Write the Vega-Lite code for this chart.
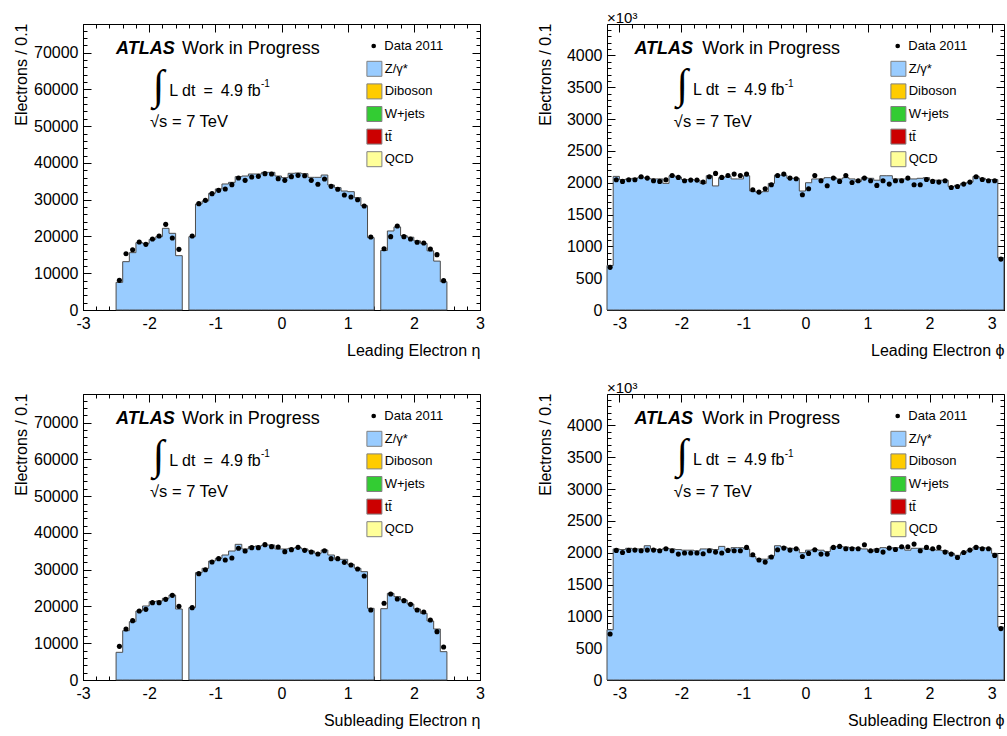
{
"$schema": "https://vega.github.io/schema/vega-lite/v6.json",
"padding": {"left": 12, "top": 10, "right": 2, "bottom": 2},
"bounds": "flush",
"spacing": {"row": 84, "column": 127},
"columns": 2,
"datasets": {
"leta": [
{"seg":"a","lo":-2.5,"c":-2.45,"mc":7530,"d":8070},{"seg":"a","lo":-2.4,"c":-2.35,"mc":13150,"d":15320},{"seg":"a","lo":-2.3,"c":-2.25,"mc":15600,"d":16410},{"seg":"a","lo":-2.2,"c":-2.15,"mc":18320,"d":18500},{"seg":"a","lo":-2.1,"c":-2.05,"mc":18140,"d":17860},{"seg":"a","lo":-2.0,"c":-1.95,"mc":19220,"d":19310},{"seg":"a","lo":-1.9,"c":-1.85,"mc":19950,"d":20130},{"seg":"a","lo":-1.8,"c":-1.75,"mc":22220,"d":23300},{"seg":"a","lo":-1.7,"c":-1.65,"mc":20860,"d":19590},{"seg":"a","lo":-1.6,"c":-1.55,"mc":14780,"d":16500},{"seg":"a","lo":-1.5,"mc":14780},
{"seg":"b","lo":-1.4,"c":-1.35,"mc":19950,"d":20130},{"seg":"b","lo":-1.3,"c":-1.25,"mc":28840,"d":28930},{"seg":"b","lo":-1.2,"c":-1.15,"mc":29650,"d":29830},{"seg":"b","lo":-1.1,"c":-1.05,"mc":31740,"d":31650},{"seg":"b","lo":-1.0,"c":-0.95,"mc":32920,"d":32550},{"seg":"b","lo":-0.9,"c":-0.85,"mc":34280,"d":32920},{"seg":"b","lo":-0.8,"c":-0.75,"mc":34730,"d":34100},{"seg":"b","lo":-0.7,"c":-0.65,"mc":36270,"d":35910},{"seg":"b","lo":-0.6,"c":-0.55,"mc":36450,"d":35270},{"seg":"b","lo":-0.5,"c":-0.45,"mc":37000,"d":36180},{"seg":"b","lo":-0.4,"c":-0.35,"mc":37000,"d":36360},{"seg":"b","lo":-0.3,"c":-0.25,"mc":37450,"d":37090},{"seg":"b","lo":-0.2,"c":-0.15,"mc":37450,"d":37000},{"seg":"b","lo":-0.1,"c":-0.05,"mc":36450,"d":35730},{"seg":"b","lo":0.0,"c":0.05,"mc":36000,"d":35270},{"seg":"b","lo":0.1,"c":0.15,"mc":37180,"d":36270},{"seg":"b","lo":0.2,"c":0.25,"mc":37270,"d":36630},{"seg":"b","lo":0.3,"c":0.35,"mc":37090,"d":36540},{"seg":"b","lo":0.4,"c":0.45,"mc":36090,"d":35270},{"seg":"b","lo":0.5,"c":0.55,"mc":36090,"d":34190},{"seg":"b","lo":0.6,"c":0.65,"mc":36720,"d":35640},{"seg":"b","lo":0.7,"c":0.75,"mc":34000,"d":33640},{"seg":"b","lo":0.8,"c":0.85,"mc":33280,"d":32830},{"seg":"b","lo":0.9,"c":0.95,"mc":32370,"d":31280},{"seg":"b","lo":1.0,"c":1.05,"mc":32190,"d":30740},{"seg":"b","lo":1.1,"c":1.15,"mc":30560,"d":30010},{"seg":"b","lo":1.2,"c":1.25,"mc":28380,"d":28290},{"seg":"b","lo":1.3,"c":1.35,"mc":19680,"d":19860},{"seg":"b","lo":1.4,"mc":19680},
{"seg":"c","lo":1.5,"c":1.55,"mc":16200,"d":16680},{"seg":"c","lo":1.6,"c":1.65,"mc":21500,"d":19950},{"seg":"c","lo":1.7,"c":1.75,"mc":22600,"d":22850},{"seg":"c","lo":1.8,"c":1.85,"mc":20200,"d":19950},{"seg":"c","lo":1.9,"c":1.95,"mc":19800,"d":19310},{"seg":"c","lo":2.0,"c":2.05,"mc":18800,"d":18410},{"seg":"c","lo":2.1,"c":2.15,"mc":18100,"d":18230},{"seg":"c","lo":2.2,"c":2.25,"mc":16100,"d":16590},{"seg":"c","lo":2.3,"c":2.35,"mc":13300,"d":15050},{"seg":"c","lo":2.4,"c":2.45,"mc":7700,"d":7980},{"seg":"c","lo":2.5,"mc":7700}
],
"seta": [
{"seg":"a","lo":-2.5,"c":-2.45,"mc":7530,"d":9160},{"seg":"a","lo":-2.4,"c":-2.35,"mc":13420,"d":13870},{"seg":"a","lo":-2.3,"c":-2.25,"mc":15870,"d":16140},{"seg":"a","lo":-2.2,"c":-2.15,"mc":18770,"d":18770},{"seg":"a","lo":-2.1,"c":-2.05,"mc":20130,"d":19220},{"seg":"a","lo":-2.0,"c":-1.95,"mc":21310,"d":21040},{"seg":"a","lo":-1.9,"c":-1.85,"mc":21490,"d":21040},{"seg":"a","lo":-1.8,"c":-1.75,"mc":22220,"d":21940},{"seg":"a","lo":-1.7,"c":-1.65,"mc":23120,"d":23030},{"seg":"a","lo":-1.6,"c":-1.55,"mc":19310,"d":20040},{"seg":"a","lo":-1.5,"mc":19310},
{"seg":"b","lo":-1.4,"c":-1.35,"mc":19680,"d":19680},{"seg":"b","lo":-1.3,"c":-1.25,"mc":29200,"d":28930},{"seg":"b","lo":-1.2,"c":-1.15,"mc":30380,"d":30010},{"seg":"b","lo":-1.1,"c":-1.05,"mc":32370,"d":32100},{"seg":"b","lo":-1.0,"c":-0.95,"mc":33100,"d":33010},{"seg":"b","lo":-0.9,"c":-0.85,"mc":34000,"d":32640},{"seg":"b","lo":-0.8,"c":-0.75,"mc":35090,"d":33190},{"seg":"b","lo":-0.7,"c":-0.65,"mc":36910,"d":35820},{"seg":"b","lo":-0.6,"c":-0.55,"mc":35640,"d":35090},{"seg":"b","lo":-0.5,"c":-0.45,"mc":36270,"d":36000},{"seg":"b","lo":-0.4,"c":-0.35,"mc":36450,"d":36000},{"seg":"b","lo":-0.3,"c":-0.25,"mc":36720,"d":36820},{"seg":"b","lo":-0.2,"c":-0.15,"mc":36720,"d":36270},{"seg":"b","lo":-0.1,"c":-0.05,"mc":35640,"d":36180},{"seg":"b","lo":0.0,"c":0.05,"mc":35640,"d":34910},{"seg":"b","lo":0.1,"c":0.15,"mc":35820,"d":35460},{"seg":"b","lo":0.2,"c":0.25,"mc":36000,"d":36090},{"seg":"b","lo":0.3,"c":0.35,"mc":35640,"d":35270},{"seg":"b","lo":0.4,"c":0.45,"mc":35090,"d":34820},{"seg":"b","lo":0.5,"c":0.55,"mc":34460,"d":34280},{"seg":"b","lo":0.6,"c":0.65,"mc":35360,"d":35180},{"seg":"b","lo":0.7,"c":0.75,"mc":34000,"d":33010},{"seg":"b","lo":0.8,"c":0.85,"mc":32830,"d":33010},{"seg":"b","lo":0.9,"c":0.95,"mc":32830,"d":32010},{"seg":"b","lo":1.0,"c":1.05,"mc":31470,"d":31280},{"seg":"b","lo":1.1,"c":1.15,"mc":30380,"d":30200},{"seg":"b","lo":1.2,"c":1.25,"mc":29470,"d":28290},{"seg":"b","lo":1.3,"c":1.35,"mc":19500,"d":19040},{"seg":"b","lo":1.4,"mc":19500},
{"seg":"c","lo":1.5,"c":1.55,"mc":19400,"d":20860},{"seg":"c","lo":1.6,"c":1.65,"mc":23570,"d":23390},{"seg":"c","lo":1.7,"c":1.75,"mc":22670,"d":22030},{"seg":"c","lo":1.8,"c":1.85,"mc":21760,"d":21580},{"seg":"c","lo":1.9,"c":1.95,"mc":20670,"d":20580},{"seg":"c","lo":2.0,"c":2.05,"mc":19310,"d":19040},{"seg":"c","lo":2.1,"c":2.15,"mc":18140,"d":18500},{"seg":"c","lo":2.2,"c":2.25,"mc":16050,"d":16320},{"seg":"c","lo":2.3,"c":2.35,"mc":13870,"d":13150},{"seg":"c","lo":2.4,"c":2.45,"mc":7710,"d":8980},{"seg":"c","lo":2.5,"mc":7710}
],
"lphi": [
{"lo":-3.2,"c":-3.15,"mc":700,"d":670},{"lo":-3.1,"c":-3.05,"mc":2100,"d":2047},{"lo":-3.0,"c":-2.95,"mc":2050,"d":2021},{"lo":-2.9,"c":-2.85,"mc":2060,"d":2047},{"lo":-2.8,"c":-2.75,"mc":2070,"d":2047},{"lo":-2.7,"c":-2.65,"mc":2090,"d":2094},{"lo":-2.6,"c":-2.55,"mc":2070,"d":2073},{"lo":-2.5,"c":-2.45,"mc":2060,"d":2031},{"lo":-2.4,"c":-2.35,"mc":2060,"d":2021},{"lo":-2.3,"c":-2.25,"mc":1990,"d":2047},{"lo":-2.2,"c":-2.15,"mc":2110,"d":2115},{"lo":-2.1,"c":-2.05,"mc":2090,"d":2084},{"lo":-2.0,"c":-1.95,"mc":2050,"d":2031},{"lo":-1.9,"c":-1.85,"mc":2050,"d":2042},{"lo":-1.8,"c":-1.75,"mc":2040,"d":2042},{"lo":-1.7,"c":-1.65,"mc":1990,"d":2010},{"lo":-1.6,"c":-1.55,"mc":2110,"d":2094},{"lo":-1.5,"c":-1.45,"mc":1950,"d":2147},{"lo":-1.4,"c":-1.35,"mc":2080,"d":2084},{"lo":-1.3,"c":-1.25,"mc":2100,"d":2115},{"lo":-1.2,"c":-1.15,"mc":2060,"d":2136},{"lo":-1.1,"c":-1.05,"mc":2060,"d":2115},{"lo":-1.0,"c":-0.95,"mc":2110,"d":2136},{"lo":-0.9,"c":-0.85,"mc":1870,"d":1890},{"lo":-0.8,"c":-0.75,"mc":1850,"d":1853},{"lo":-0.7,"c":-0.65,"mc":1860,"d":1906},{"lo":-0.6,"c":-0.55,"mc":1990,"d":1969},{"lo":-0.5,"c":-0.45,"mc":2120,"d":2115},{"lo":-0.4,"c":-0.35,"mc":2120,"d":2136},{"lo":-0.3,"c":-0.25,"mc":2070,"d":2073},{"lo":-0.2,"c":-0.15,"mc":2070,"d":2063},{"lo":-0.1,"c":-0.05,"mc":1870,"d":1811},{"lo":0.0,"c":0.05,"mc":2000,"d":1906},{"lo":0.1,"c":0.15,"mc":2060,"d":2115},{"lo":0.2,"c":0.25,"mc":2060,"d":2031},{"lo":0.3,"c":0.35,"mc":2080,"d":1953},{"lo":0.4,"c":0.45,"mc":2080,"d":2073},{"lo":0.5,"c":0.55,"mc":2060,"d":2021},{"lo":0.6,"c":0.65,"mc":2080,"d":2115},{"lo":0.7,"c":0.75,"mc":2060,"d":2005},{"lo":0.8,"c":0.85,"mc":2020,"d":2031},{"lo":0.9,"c":0.95,"mc":2080,"d":2073},{"lo":1.0,"c":1.05,"mc":2070,"d":2031},{"lo":1.1,"c":1.15,"mc":2040,"d":1958},{"lo":1.2,"c":1.25,"mc":2110,"d":2031},{"lo":1.3,"c":1.35,"mc":2110,"d":1979},{"lo":1.4,"c":1.45,"mc":2060,"d":2031},{"lo":1.5,"c":1.55,"mc":2060,"d":2031},{"lo":1.6,"c":1.65,"mc":2060,"d":2073},{"lo":1.7,"c":1.75,"mc":2060,"d":1969},{"lo":1.8,"c":1.85,"mc":2070,"d":1969},{"lo":1.9,"c":1.95,"mc":2080,"d":2052},{"lo":2.0,"c":2.05,"mc":2040,"d":2021},{"lo":2.1,"c":2.15,"mc":2040,"d":2010},{"lo":2.2,"c":2.25,"mc":2040,"d":2031},{"lo":2.3,"c":2.35,"mc":1940,"d":1926},{"lo":2.4,"c":2.45,"mc":1960,"d":1942},{"lo":2.5,"c":2.55,"mc":1990,"d":1979},{"lo":2.6,"c":2.65,"mc":2010,"d":2010},{"lo":2.7,"c":2.75,"mc":2100,"d":2094},{"lo":2.8,"c":2.85,"mc":2070,"d":2052},{"lo":2.9,"c":2.95,"mc":2050,"d":2031},{"lo":3.0,"c":3.05,"mc":2050,"d":2031},{"lo":3.1,"c":3.15,"mc":820,"d":800},{"lo":3.2,"mc":820}
],
"sphi": [
{"lo":-3.2,"c":-3.15,"mc":790,"d":724},{"lo":-3.1,"c":-3.05,"mc":2060,"d":2037},{"lo":-3.0,"c":-2.95,"mc":2050,"d":2005},{"lo":-2.9,"c":-2.85,"mc":2070,"d":2037},{"lo":-2.8,"c":-2.75,"mc":2060,"d":2042},{"lo":-2.7,"c":-2.65,"mc":2060,"d":2031},{"lo":-2.6,"c":-2.55,"mc":2110,"d":2042},{"lo":-2.5,"c":-2.45,"mc":2060,"d":2042},{"lo":-2.4,"c":-2.35,"mc":2050,"d":2031},{"lo":-2.3,"c":-2.25,"mc":2070,"d":2063},{"lo":-2.2,"c":-2.15,"mc":2060,"d":2031},{"lo":-2.1,"c":-2.05,"mc":2050,"d":1979},{"lo":-2.0,"c":-1.95,"mc":2040,"d":1995},{"lo":-1.9,"c":-1.85,"mc":2040,"d":1995},{"lo":-1.8,"c":-1.75,"mc":2030,"d":1995},{"lo":-1.7,"c":-1.65,"mc":2060,"d":1984},{"lo":-1.6,"c":-1.55,"mc":2060,"d":2031},{"lo":-1.5,"c":-1.45,"mc":2050,"d":2010},{"lo":-1.4,"c":-1.35,"mc":2100,"d":1995},{"lo":-1.3,"c":-1.25,"mc":2040,"d":2037},{"lo":-1.2,"c":-1.15,"mc":2080,"d":2031},{"lo":-1.1,"c":-1.05,"mc":2080,"d":2031},{"lo":-1.0,"c":-0.95,"mc":2060,"d":2084},{"lo":-0.9,"c":-0.85,"mc":1940,"d":1969},{"lo":-0.8,"c":-0.75,"mc":1900,"d":1885},{"lo":-0.7,"c":-0.65,"mc":1900,"d":1853},{"lo":-0.6,"c":-0.55,"mc":1950,"d":1932},{"lo":-0.5,"c":-0.45,"mc":2110,"d":2047},{"lo":-0.4,"c":-0.35,"mc":2090,"d":2073},{"lo":-0.3,"c":-0.25,"mc":2070,"d":2042},{"lo":-0.2,"c":-0.15,"mc":2060,"d":2063},{"lo":-0.1,"c":-0.05,"mc":2000,"d":1942},{"lo":0.0,"c":0.05,"mc":2040,"d":1990},{"lo":0.1,"c":0.15,"mc":2050,"d":2047},{"lo":0.2,"c":0.25,"mc":2040,"d":1979},{"lo":0.3,"c":0.35,"mc":2020,"d":1979},{"lo":0.4,"c":0.45,"mc":2090,"d":2084},{"lo":0.5,"c":0.55,"mc":2100,"d":2100},{"lo":0.6,"c":0.65,"mc":2090,"d":2063},{"lo":0.7,"c":0.75,"mc":2080,"d":2063},{"lo":0.8,"c":0.85,"mc":2070,"d":2063},{"lo":0.9,"c":0.95,"mc":2060,"d":2126},{"lo":1.0,"c":1.05,"mc":2020,"d":2031},{"lo":1.1,"c":1.15,"mc":2060,"d":2037},{"lo":1.2,"c":1.25,"mc":2080,"d":2010},{"lo":1.3,"c":1.35,"mc":2070,"d":2073},{"lo":1.4,"c":1.45,"mc":2080,"d":2052},{"lo":1.5,"c":1.55,"mc":2080,"d":2094},{"lo":1.6,"c":1.65,"mc":2040,"d":2094},{"lo":1.7,"c":1.75,"mc":2070,"d":2136},{"lo":1.8,"c":1.85,"mc":2070,"d":2031},{"lo":1.9,"c":1.95,"mc":2060,"d":2084},{"lo":2.0,"c":2.05,"mc":2050,"d":2063},{"lo":2.1,"c":2.15,"mc":2040,"d":2084},{"lo":2.2,"c":2.25,"mc":2030,"d":2010},{"lo":2.3,"c":2.35,"mc":1990,"d":1979},{"lo":2.4,"c":2.45,"mc":1960,"d":1926},{"lo":2.5,"c":2.55,"mc":2000,"d":2005},{"lo":2.6,"c":2.65,"mc":2040,"d":2042},{"lo":2.7,"c":2.75,"mc":2090,"d":2084},{"lo":2.8,"c":2.85,"mc":2080,"d":2063},{"lo":2.9,"c":2.95,"mc":2070,"d":2063},{"lo":3.0,"c":3.05,"mc":1990,"d":1958},{"lo":3.1,"c":3.15,"mc":830,"d":808},{"lo":3.2,"mc":830}
],
"one": [{}]
},
"concat": [
{
"width": 397, "height": 286,
"data": {"name": "leta"},
"layer": [
{"mark": {"type": "area", "interpolate": "step-after", "stroke": "#4d4d4d", "strokeWidth": 1, "opacity": 1},
 "encoding": {
  "x": {"field": "lo", "type": "quantitative", "scale": {"domain": [-3, 3], "nice": false, "zero": false},
        "axis": {"orient": "bottom", "values": [-3,-2,-1,0,1,2,3], "tickSize": -8, "labelExpr": "'' + datum.value", "labelBaseline": "top", "domain": true, "title": "Leading Electron η", "titleX": 397, "titleY": 45, "titleAlign": "right", "titleBaseline": "alphabetic"}},
  "y": {"field": "mc", "type": "quantitative", "stack": null, "scale": {"domain": [0, 77800], "nice": false, "zero": false},
        "axis": {"orient": "left", "values": [0,10000,20000,30000,40000,50000,60000,70000], "tickSize": -8, "labelExpr": "'' + datum.value", "domain": true, "title": "Electrons / 0.1", "titleX": -57, "titleY": -1, "titleAngle": -90, "titleAlign": "right", "titleBaseline": "alphabetic"}},
  "detail": {"field": "seg", "type": "nominal"},
  "fill": {"datum": "Z/γ*", "type": "nominal", "scale": {"domain": ["Z/γ*","Diboson","W+jets","tt̄","QCD"], "range": ["#99ccff","#ffcc00","#33cc33","#cc0000","#ffff99"]},
           "legend": {"orient": "none", "legendX": 283.4, "legendY": 36.8, "title": null, "symbolType": "square", "symbolSize": 225, "symbolStrokeColor": "#808080", "symbolStrokeWidth": 1, "symbolOpacity": 1, "labelOffset": 2.3, "rowPadding": 2.6, "labelFontSize": 13, "encode": {"symbols": {"update": {"stroke": {"value": "#808080"}, "strokeWidth": {"value": 1}, "opacity": {"value": 1}}}}}}
 }},
{"mark": {"type": "point", "filled": true, "color": "black", "size": 26, "opacity": 1},
 "encoding": {
  "x": {"field": "c", "type": "quantitative", "axis": {"orient": "bottom", "values": [-3,-2.8,-2.6,-2.4,-2.2,-2,-1.8,-1.6,-1.4,-1.2,-1,-0.8,-0.6,-0.4,-0.2,0,0.2,0.4,0.6,0.8,1,1.2,1.4,1.6,1.8,2,2.2,2.4,2.6,2.8,3], "tickSize": -4, "labels": false, "domain": false, "title": null}},
  "y": {"field": "d", "type": "quantitative", "axis": {"orient": "left", "values": [0,2000,4000,6000,8000,10000,12000,14000,16000,18000,20000,22000,24000,26000,28000,30000,32000,34000,36000,38000,40000,42000,44000,46000,48000,50000,52000,54000,56000,58000,60000,62000,64000,66000,68000,70000,72000,74000,76000], "tickSize": -4, "labels": false, "domain": false, "title": null}},
  "shape": {"datum": "Data 2011", "type": "nominal", "scale": {"domain": ["Data 2011"], "range": ["circle"]},
            "legend": {"orient": "none", "legendX": 284.2, "legendY": 15.5, "title": null, "symbolType": "circle", "symbolSize": 22, "symbolFillColor": "black", "symbolStrokeColor": "black", "symbolStrokeWidth": 0, "labelOffset": 4.1, "labelFontSize": 13}}
 }},
{"data": {"name": "one"}, "mark": {"type": "text", "text": "ATLAS", "fontSize": 18, "fontWeight": "bold", "fontStyle": "italic", "align": "left", "baseline": "alphabetic"},
 "encoding": {
  "x": {"datum": -2.5, "type": "quantitative", "axis": {"orient": "top", "values": [-3,-2,-1,0,1,2,3], "tickSize": -8, "labels": false, "domain": true, "title": null}},
  "y": {"datum": 69640, "type": "quantitative", "axis": {"orient": "right", "values": [0,10000,20000,30000,40000,50000,60000,70000], "tickSize": -8, "labels": false, "domain": true, "title": null}}
 }},
{"data": {"name": "one"}, "mark": {"type": "text", "text": "Work in Progress", "fontSize": 18, "align": "left", "baseline": "alphabetic"},
 "encoding": {
  "x": {"datum": -1.504, "type": "quantitative", "axis": {"orient": "top", "values": [-3,-2.8,-2.6,-2.4,-2.2,-2,-1.8,-1.6,-1.4,-1.2,-1,-0.8,-0.6,-0.4,-0.2,0,0.2,0.4,0.6,0.8,1,1.2,1.4,1.6,1.8,2,2.2,2.4,2.6,2.8,3], "tickSize": -4, "labels": false, "domain": false, "title": null}},
  "y": {"datum": 69640, "type": "quantitative", "axis": {"orient": "right", "values": [0,2000,4000,6000,8000,10000,12000,14000,16000,18000,20000,22000,24000,26000,28000,30000,32000,34000,36000,38000,40000,42000,44000,46000,48000,50000,52000,54000,56000,58000,60000,62000,64000,66000,68000,70000,72000,74000,76000], "tickSize": -4, "labels": false, "domain": false, "title": null}}
 }},
{"data": {"name": "one"}, "mark": {"type": "text", "text": "∫", "font": "Liberation Serif", "fontSize": 42, "align": "center", "baseline": "middle"},
 "encoding": {"x": {"datum": -1.859, "type": "quantitative", "axis": null}, "y": {"datum": 61000, "type": "quantitative", "axis": null}}},
{"data": {"name": "one"}, "mark": {"type": "text", "text": "L dt\u2002=\u20024.9 fb", "fontSize": 16, "align": "left", "baseline": "alphabetic"},
 "encoding": {"x": {"datum": -1.696, "type": "quantitative", "axis": null}, "y": {"datum": 58300, "type": "quantitative", "axis": null}}},
{"data": {"name": "one"}, "mark": {"type": "text", "text": "-1", "fontSize": 10, "align": "left", "baseline": "alphabetic"},
 "encoding": {"x": {"datum": -0.31, "type": "quantitative", "axis": null}, "y": {"datum": 60660, "type": "quantitative", "axis": null}}},
{"data": {"name": "one"}, "mark": {"type": "text", "text": "√s = 7 TeV", "fontSize": 16.5, "align": "left", "baseline": "alphabetic"},
 "encoding": {"x": {"datum": -1.987, "type": "quantitative", "axis": null}, "y": {"datum": 49700, "type": "quantitative", "axis": null}}}
],
"resolve": {"axis": {"x": "independent", "y": "independent"}}
},
{
"width": 397, "height": 286,
"title": {"text": "×10³", "anchor": "start", "frame": "group", "offset": -14.5, "fontSize": 15, "fontWeight": "normal", "baseline": "alphabetic"},
"data": {"name": "lphi"},
"layer": [
{"mark": {"type": "area", "interpolate": "step-after", "stroke": "#4d4d4d", "strokeWidth": 1, "opacity": 1},
 "encoding": {
  "x": {"field": "lo", "type": "quantitative", "scale": {"domain": [-3.2, 3.2], "nice": false, "zero": false},
        "axis": {"orient": "bottom", "values": [-3,-2,-1,0,1,2,3], "tickSize": -8, "labelExpr": "'' + datum.value", "labelBaseline": "top", "domain": true, "title": "Leading Electron ϕ", "titleX": 397, "titleY": 45, "titleAlign": "right", "titleBaseline": "alphabetic"}},
  "y": {"field": "mc", "type": "quantitative", "stack": null, "scale": {"domain": [0, 4495], "nice": false, "zero": false},
        "axis": {"orient": "left", "values": [0,500,1000,1500,2000,2500,3000,3500,4000], "tickSize": -8, "labelExpr": "'' + datum.value", "domain": true, "title": "Electrons / 0.1", "titleX": -57, "titleY": -1, "titleAngle": -90, "titleAlign": "right", "titleBaseline": "alphabetic"}},
  "fill": {"datum": "Z/γ*", "type": "nominal", "scale": {"domain": ["Z/γ*","Diboson","W+jets","tt̄","QCD"], "range": ["#99ccff","#ffcc00","#33cc33","#cc0000","#ffff99"]},
           "legend": {"orient": "none", "legendX": 283.4, "legendY": 36.8, "title": null, "symbolType": "square", "symbolSize": 225, "symbolStrokeColor": "#808080", "symbolStrokeWidth": 1, "symbolOpacity": 1, "labelOffset": 2.3, "rowPadding": 2.6, "labelFontSize": 13, "encode": {"symbols": {"update": {"stroke": {"value": "#808080"}, "strokeWidth": {"value": 1}, "opacity": {"value": 1}}}}}}
 }},
{"mark": {"type": "point", "filled": true, "color": "black", "size": 26, "opacity": 1},
 "encoding": {
  "x": {"field": "c", "type": "quantitative", "axis": {"orient": "bottom", "values": [-3.2,-3,-2.8,-2.6,-2.4,-2.2,-2,-1.8,-1.6,-1.4,-1.2,-1,-0.8,-0.6,-0.4,-0.2,0,0.2,0.4,0.6,0.8,1,1.2,1.4,1.6,1.8,2,2.2,2.4,2.6,2.8,3,3.2], "tickSize": -4, "labels": false, "domain": false, "title": null}},
  "y": {"field": "d", "type": "quantitative", "axis": {"orient": "left", "values": [0,100,200,300,400,500,600,700,800,900,1000,1100,1200,1300,1400,1500,1600,1700,1800,1900,2000,2100,2200,2300,2400,2500,2600,2700,2800,2900,3000,3100,3200,3300,3400,3500,3600,3700,3800,3900,4000,4100,4200,4300,4400], "tickSize": -4, "labels": false, "domain": false, "title": null}},
  "shape": {"datum": "Data 2011", "type": "nominal", "scale": {"domain": ["Data 2011"], "range": ["circle"]},
            "legend": {"orient": "none", "legendX": 284.2, "legendY": 15.5, "title": null, "symbolType": "circle", "symbolSize": 22, "symbolFillColor": "black", "symbolStrokeColor": "black", "symbolStrokeWidth": 0, "labelOffset": 4.1, "labelFontSize": 13}}
 }},
{"data": {"name": "one"}, "mark": {"type": "text", "text": "ATLAS", "fontSize": 18, "fontWeight": "bold", "fontStyle": "italic", "align": "left", "baseline": "alphabetic"},
 "encoding": {
  "x": {"datum": -2.758, "type": "quantitative", "axis": {"orient": "top", "values": [-3,-2,-1,0,1,2,3], "tickSize": -8, "labels": false, "domain": true, "title": null}},
  "y": {"datum": 4016, "type": "quantitative", "axis": {"orient": "right", "values": [0,500,1000,1500,2000,2500,3000,3500,4000], "tickSize": -8, "labels": false, "domain": true, "title": null}}
 }},
{"data": {"name": "one"}, "mark": {"type": "text", "text": "Work in Progress", "fontSize": 18, "align": "left", "baseline": "alphabetic"},
 "encoding": {
  "x": {"datum": -1.665, "type": "quantitative", "axis": {"orient": "top", "values": [-3.2,-3,-2.8,-2.6,-2.4,-2.2,-2,-1.8,-1.6,-1.4,-1.2,-1,-0.8,-0.6,-0.4,-0.2,0,0.2,0.4,0.6,0.8,1,1.2,1.4,1.6,1.8,2,2.2,2.4,2.6,2.8,3,3.2], "tickSize": -4, "labels": false, "domain": false, "title": null}},
  "y": {"datum": 4016, "type": "quantitative", "axis": {"orient": "right", "values": [0,100,200,300,400,500,600,700,800,900,1000,1100,1200,1300,1400,1500,1600,1700,1800,1900,2000,2100,2200,2300,2400,2500,2600,2700,2800,2900,3000,3100,3200,3300,3400,3500,3600,3700,3800,3900,4000,4100,4200,4300,4400], "tickSize": -4, "labels": false, "domain": false, "title": null}}
 }},
{"data": {"name": "one"}, "mark": {"type": "text", "text": "∫", "font": "Liberation Serif", "fontSize": 42, "align": "center", "baseline": "middle"},
 "encoding": {"x": {"datum": -1.988, "type": "quantitative", "axis": null}, "y": {"datum": 3530, "type": "quantitative", "axis": null}}},
{"data": {"name": "one"}, "mark": {"type": "text", "text": "L dt\u2002=\u20024.9 fb", "fontSize": 16, "align": "left", "baseline": "alphabetic"},
 "encoding": {"x": {"datum": -1.815, "type": "quantitative", "axis": null}, "y": {"datum": 3375, "type": "quantitative", "axis": null}}},
{"data": {"name": "one"}, "mark": {"type": "text", "text": "-1", "fontSize": 10, "align": "left", "baseline": "alphabetic"},
 "encoding": {"x": {"datum": -0.336, "type": "quantitative", "axis": null}, "y": {"datum": 3512, "type": "quantitative", "axis": null}}},
{"data": {"name": "one"}, "mark": {"type": "text", "text": "√s = 7 TeV", "fontSize": 16.5, "align": "left", "baseline": "alphabetic"},
 "encoding": {"x": {"datum": -2.122, "type": "quantitative", "axis": null}, "y": {"datum": 2877, "type": "quantitative", "axis": null}}}
],
"resolve": {"axis": {"x": "independent", "y": "independent"}}
},
{
"width": 397, "height": 286,
"data": {"name": "seta"},
"layer": [
{"mark": {"type": "area", "interpolate": "step-after", "stroke": "#4d4d4d", "strokeWidth": 1, "opacity": 1},
 "encoding": {
  "x": {"field": "lo", "type": "quantitative", "scale": {"domain": [-3, 3], "nice": false, "zero": false},
        "axis": {"orient": "bottom", "values": [-3,-2,-1,0,1,2,3], "tickSize": -8, "labelExpr": "'' + datum.value", "labelBaseline": "top", "domain": true, "title": "Subleading Electron η", "titleX": 397, "titleY": 45, "titleAlign": "right", "titleBaseline": "alphabetic"}},
  "y": {"field": "mc", "type": "quantitative", "stack": null, "scale": {"domain": [0, 77800], "nice": false, "zero": false},
        "axis": {"orient": "left", "values": [0,10000,20000,30000,40000,50000,60000,70000], "tickSize": -8, "labelExpr": "'' + datum.value", "domain": true, "title": "Electrons / 0.1", "titleX": -57, "titleY": -1, "titleAngle": -90, "titleAlign": "right", "titleBaseline": "alphabetic"}},
  "detail": {"field": "seg", "type": "nominal"},
  "fill": {"datum": "Z/γ*", "type": "nominal", "scale": {"domain": ["Z/γ*","Diboson","W+jets","tt̄","QCD"], "range": ["#99ccff","#ffcc00","#33cc33","#cc0000","#ffff99"]},
           "legend": {"orient": "none", "legendX": 283.4, "legendY": 36.8, "title": null, "symbolType": "square", "symbolSize": 225, "symbolStrokeColor": "#808080", "symbolStrokeWidth": 1, "symbolOpacity": 1, "labelOffset": 2.3, "rowPadding": 2.6, "labelFontSize": 13, "encode": {"symbols": {"update": {"stroke": {"value": "#808080"}, "strokeWidth": {"value": 1}, "opacity": {"value": 1}}}}}}
 }},
{"mark": {"type": "point", "filled": true, "color": "black", "size": 26, "opacity": 1},
 "encoding": {
  "x": {"field": "c", "type": "quantitative", "axis": {"orient": "bottom", "values": [-3,-2.8,-2.6,-2.4,-2.2,-2,-1.8,-1.6,-1.4,-1.2,-1,-0.8,-0.6,-0.4,-0.2,0,0.2,0.4,0.6,0.8,1,1.2,1.4,1.6,1.8,2,2.2,2.4,2.6,2.8,3], "tickSize": -4, "labels": false, "domain": false, "title": null}},
  "y": {"field": "d", "type": "quantitative", "axis": {"orient": "left", "values": [0,2000,4000,6000,8000,10000,12000,14000,16000,18000,20000,22000,24000,26000,28000,30000,32000,34000,36000,38000,40000,42000,44000,46000,48000,50000,52000,54000,56000,58000,60000,62000,64000,66000,68000,70000,72000,74000,76000], "tickSize": -4, "labels": false, "domain": false, "title": null}},
  "shape": {"datum": "Data 2011", "type": "nominal", "scale": {"domain": ["Data 2011"], "range": ["circle"]},
            "legend": {"orient": "none", "legendX": 284.2, "legendY": 15.5, "title": null, "symbolType": "circle", "symbolSize": 22, "symbolFillColor": "black", "symbolStrokeColor": "black", "symbolStrokeWidth": 0, "labelOffset": 4.1, "labelFontSize": 13}}
 }},
{"data": {"name": "one"}, "mark": {"type": "text", "text": "ATLAS", "fontSize": 18, "fontWeight": "bold", "fontStyle": "italic", "align": "left", "baseline": "alphabetic"},
 "encoding": {
  "x": {"datum": -2.5, "type": "quantitative", "axis": {"orient": "top", "values": [-3,-2,-1,0,1,2,3], "tickSize": -8, "labels": false, "domain": true, "title": null}},
  "y": {"datum": 69640, "type": "quantitative", "axis": {"orient": "right", "values": [0,10000,20000,30000,40000,50000,60000,70000], "tickSize": -8, "labels": false, "domain": true, "title": null}}
 }},
{"data": {"name": "one"}, "mark": {"type": "text", "text": "Work in Progress", "fontSize": 18, "align": "left", "baseline": "alphabetic"},
 "encoding": {
  "x": {"datum": -1.504, "type": "quantitative", "axis": {"orient": "top", "values": [-3,-2.8,-2.6,-2.4,-2.2,-2,-1.8,-1.6,-1.4,-1.2,-1,-0.8,-0.6,-0.4,-0.2,0,0.2,0.4,0.6,0.8,1,1.2,1.4,1.6,1.8,2,2.2,2.4,2.6,2.8,3], "tickSize": -4, "labels": false, "domain": false, "title": null}},
  "y": {"datum": 69640, "type": "quantitative", "axis": {"orient": "right", "values": [0,2000,4000,6000,8000,10000,12000,14000,16000,18000,20000,22000,24000,26000,28000,30000,32000,34000,36000,38000,40000,42000,44000,46000,48000,50000,52000,54000,56000,58000,60000,62000,64000,66000,68000,70000,72000,74000,76000], "tickSize": -4, "labels": false, "domain": false, "title": null}}
 }},
{"data": {"name": "one"}, "mark": {"type": "text", "text": "∫", "font": "Liberation Serif", "fontSize": 42, "align": "center", "baseline": "middle"},
 "encoding": {"x": {"datum": -1.859, "type": "quantitative", "axis": null}, "y": {"datum": 61000, "type": "quantitative", "axis": null}}},
{"data": {"name": "one"}, "mark": {"type": "text", "text": "L dt\u2002=\u20024.9 fb", "fontSize": 16, "align": "left", "baseline": "alphabetic"},
 "encoding": {"x": {"datum": -1.696, "type": "quantitative", "axis": null}, "y": {"datum": 58300, "type": "quantitative", "axis": null}}},
{"data": {"name": "one"}, "mark": {"type": "text", "text": "-1", "fontSize": 10, "align": "left", "baseline": "alphabetic"},
 "encoding": {"x": {"datum": -0.31, "type": "quantitative", "axis": null}, "y": {"datum": 60660, "type": "quantitative", "axis": null}}},
{"data": {"name": "one"}, "mark": {"type": "text", "text": "√s = 7 TeV", "fontSize": 16.5, "align": "left", "baseline": "alphabetic"},
 "encoding": {"x": {"datum": -1.987, "type": "quantitative", "axis": null}, "y": {"datum": 49700, "type": "quantitative", "axis": null}}}
],
"resolve": {"axis": {"x": "independent", "y": "independent"}}
},
{
"width": 397, "height": 286,
"title": {"text": "×10³", "anchor": "start", "frame": "group", "offset": -14.5, "fontSize": 15, "fontWeight": "normal", "baseline": "alphabetic"},
"data": {"name": "sphi"},
"layer": [
{"mark": {"type": "area", "interpolate": "step-after", "stroke": "#4d4d4d", "strokeWidth": 1, "opacity": 1},
 "encoding": {
  "x": {"field": "lo", "type": "quantitative", "scale": {"domain": [-3.2, 3.2], "nice": false, "zero": false},
        "axis": {"orient": "bottom", "values": [-3,-2,-1,0,1,2,3], "tickSize": -8, "labelExpr": "'' + datum.value", "labelBaseline": "top", "domain": true, "title": "Subleading Electron ϕ", "titleX": 397, "titleY": 45, "titleAlign": "right", "titleBaseline": "alphabetic"}},
  "y": {"field": "mc", "type": "quantitative", "stack": null, "scale": {"domain": [0, 4495], "nice": false, "zero": false},
        "axis": {"orient": "left", "values": [0,500,1000,1500,2000,2500,3000,3500,4000], "tickSize": -8, "labelExpr": "'' + datum.value", "domain": true, "title": "Electrons / 0.1", "titleX": -57, "titleY": -1, "titleAngle": -90, "titleAlign": "right", "titleBaseline": "alphabetic"}},
  "fill": {"datum": "Z/γ*", "type": "nominal", "scale": {"domain": ["Z/γ*","Diboson","W+jets","tt̄","QCD"], "range": ["#99ccff","#ffcc00","#33cc33","#cc0000","#ffff99"]},
           "legend": {"orient": "none", "legendX": 283.4, "legendY": 36.8, "title": null, "symbolType": "square", "symbolSize": 225, "symbolStrokeColor": "#808080", "symbolStrokeWidth": 1, "symbolOpacity": 1, "labelOffset": 2.3, "rowPadding": 2.6, "labelFontSize": 13, "encode": {"symbols": {"update": {"stroke": {"value": "#808080"}, "strokeWidth": {"value": 1}, "opacity": {"value": 1}}}}}}
 }},
{"mark": {"type": "point", "filled": true, "color": "black", "size": 26, "opacity": 1},
 "encoding": {
  "x": {"field": "c", "type": "quantitative", "axis": {"orient": "bottom", "values": [-3.2,-3,-2.8,-2.6,-2.4,-2.2,-2,-1.8,-1.6,-1.4,-1.2,-1,-0.8,-0.6,-0.4,-0.2,0,0.2,0.4,0.6,0.8,1,1.2,1.4,1.6,1.8,2,2.2,2.4,2.6,2.8,3,3.2], "tickSize": -4, "labels": false, "domain": false, "title": null}},
  "y": {"field": "d", "type": "quantitative", "axis": {"orient": "left", "values": [0,100,200,300,400,500,600,700,800,900,1000,1100,1200,1300,1400,1500,1600,1700,1800,1900,2000,2100,2200,2300,2400,2500,2600,2700,2800,2900,3000,3100,3200,3300,3400,3500,3600,3700,3800,3900,4000,4100,4200,4300,4400], "tickSize": -4, "labels": false, "domain": false, "title": null}},
  "shape": {"datum": "Data 2011", "type": "nominal", "scale": {"domain": ["Data 2011"], "range": ["circle"]},
            "legend": {"orient": "none", "legendX": 284.2, "legendY": 15.5, "title": null, "symbolType": "circle", "symbolSize": 22, "symbolFillColor": "black", "symbolStrokeColor": "black", "symbolStrokeWidth": 0, "labelOffset": 4.1, "labelFontSize": 13}}
 }},
{"data": {"name": "one"}, "mark": {"type": "text", "text": "ATLAS", "fontSize": 18, "fontWeight": "bold", "fontStyle": "italic", "align": "left", "baseline": "alphabetic"},
 "encoding": {
  "x": {"datum": -2.758, "type": "quantitative", "axis": {"orient": "top", "values": [-3,-2,-1,0,1,2,3], "tickSize": -8, "labels": false, "domain": true, "title": null}},
  "y": {"datum": 4016, "type": "quantitative", "axis": {"orient": "right", "values": [0,500,1000,1500,2000,2500,3000,3500,4000], "tickSize": -8, "labels": false, "domain": true, "title": null}}
 }},
{"data": {"name": "one"}, "mark": {"type": "text", "text": "Work in Progress", "fontSize": 18, "align": "left", "baseline": "alphabetic"},
 "encoding": {
  "x": {"datum": -1.665, "type": "quantitative", "axis": {"orient": "top", "values": [-3.2,-3,-2.8,-2.6,-2.4,-2.2,-2,-1.8,-1.6,-1.4,-1.2,-1,-0.8,-0.6,-0.4,-0.2,0,0.2,0.4,0.6,0.8,1,1.2,1.4,1.6,1.8,2,2.2,2.4,2.6,2.8,3,3.2], "tickSize": -4, "labels": false, "domain": false, "title": null}},
  "y": {"datum": 4016, "type": "quantitative", "axis": {"orient": "right", "values": [0,100,200,300,400,500,600,700,800,900,1000,1100,1200,1300,1400,1500,1600,1700,1800,1900,2000,2100,2200,2300,2400,2500,2600,2700,2800,2900,3000,3100,3200,3300,3400,3500,3600,3700,3800,3900,4000,4100,4200,4300,4400], "tickSize": -4, "labels": false, "domain": false, "title": null}}
 }},
{"data": {"name": "one"}, "mark": {"type": "text", "text": "∫", "font": "Liberation Serif", "fontSize": 42, "align": "center", "baseline": "middle"},
 "encoding": {"x": {"datum": -1.988, "type": "quantitative", "axis": null}, "y": {"datum": 3530, "type": "quantitative", "axis": null}}},
{"data": {"name": "one"}, "mark": {"type": "text", "text": "L dt\u2002=\u20024.9 fb", "fontSize": 16, "align": "left", "baseline": "alphabetic"},
 "encoding": {"x": {"datum": -1.815, "type": "quantitative", "axis": null}, "y": {"datum": 3375, "type": "quantitative", "axis": null}}},
{"data": {"name": "one"}, "mark": {"type": "text", "text": "-1", "fontSize": 10, "align": "left", "baseline": "alphabetic"},
 "encoding": {"x": {"datum": -0.336, "type": "quantitative", "axis": null}, "y": {"datum": 3512, "type": "quantitative", "axis": null}}},
{"data": {"name": "one"}, "mark": {"type": "text", "text": "√s = 7 TeV", "fontSize": 16.5, "align": "left", "baseline": "alphabetic"},
 "encoding": {"x": {"datum": -2.122, "type": "quantitative", "axis": null}, "y": {"datum": 2877, "type": "quantitative", "axis": null}}}
],
"resolve": {"axis": {"x": "independent", "y": "independent"}}
}
],
"resolve": {"scale": {"fill": "independent", "shape": "independent"}, "legend": {"fill": "independent", "shape": "independent"}},
"config": {
 "font": "Liberation Sans",
 "view": {"stroke": null},
 "axis": {"grid": false, "zindex": 1, "tickColor": "black", "tickWidth": 1, "domainColor": "black", "domainWidth": 1, "labelFont": "Liberation Sans", "labelFontSize": 16, "labelColor": "black", "labelFlush": false, "labelOverlap": false, "labelPadding": 13, "titleFont": "Liberation Sans", "titleFontSize": 16, "titleFontWeight": "normal", "titleColor": "black"},
 "legend": {"labelFont": "Liberation Sans", "labelFontSize": 13, "labelColor": "black", "padding": 0},
 "text": {"font": "Liberation Sans", "color": "black"},
 "title": {"font": "Liberation Sans", "fontWeight": "normal", "color": "black"}
}
}
